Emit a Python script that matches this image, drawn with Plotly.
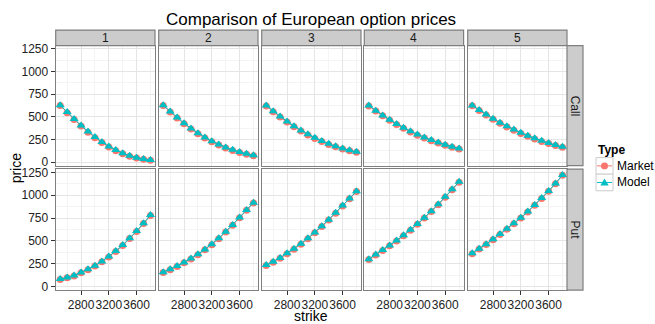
import plotly.graph_objects as go

# ---------------- data ----------------
strikes = [2500, 2600, 2700, 2800, 2900, 3000, 3100, 3200, 3300, 3400, 3500, 3600, 3700, 3800]
maturities = ["1", "2", "3", "4", "5"]
option_types = ["Call", "Put"]
x_ticks = [2800, 3200, 3600]
y_ticks = [0, 250, 500, 750, 1000, 1250]

call_model = [
    [628, 552, 477, 405, 338, 277, 222, 174, 133, 99, 71, 50, 35, 24],
    [628, 558, 492, 429, 372, 320, 273, 231, 195, 163, 136, 113, 93, 76],
    [624, 562, 503, 448, 397, 350, 307, 268, 234, 203, 176, 152, 131, 114],
    [624, 568, 516, 467, 421, 379, 340, 305, 273, 244, 217, 193, 171, 151],
    [625, 574, 525, 479, 436, 396, 359, 324, 292, 263, 236, 211, 189, 169],
]
call_market = [
    [624, 546, 471, 399, 331, 270, 216, 168, 127, 93, 66, 45, 31, 21],
    [624, 553, 486, 423, 365, 313, 266, 224, 188, 156, 129, 106, 86, 70],
    [620, 557, 498, 442, 391, 343, 300, 261, 227, 196, 169, 146, 125, 109],
    [620, 563, 511, 461, 415, 373, 334, 298, 266, 237, 211, 187, 165, 146],
    [621, 569, 520, 473, 430, 389, 352, 317, 285, 256, 229, 205, 183, 164],
]
put_model = [
    [82, 100, 121, 154, 189, 229, 275, 329, 389, 454, 529, 607, 693, 782],
    [157, 189, 225, 264, 307, 354, 407, 464, 529, 600, 675, 757, 839, 918],
    [236, 271, 314, 364, 414, 468, 529, 593, 661, 732, 807, 886, 964, 1043],
    [300, 350, 400, 450, 504, 561, 621, 686, 754, 825, 900, 982, 1064, 1146],
    [364, 414, 464, 518, 575, 632, 693, 754, 821, 893, 968, 1046, 1129, 1222],
]
put_market = [
    [78, 96, 117, 150, 185, 224, 271, 324, 385, 450, 525, 603, 689, 778],
    [153, 185, 221, 260, 302, 349, 402, 459, 524, 596, 671, 753, 835, 914],
    [232, 267, 310, 359, 409, 463, 524, 588, 656, 728, 803, 882, 960, 1039],
    [296, 346, 396, 446, 499, 556, 616, 681, 749, 821, 896, 978, 1060, 1142],
    [360, 410, 460, 513, 570, 627, 688, 749, 816, 889, 964, 1042, 1125, 1218],
]

# ---------------- styling ----------------
W, H = 655, 324
FONT = "Liberation Sans, Arial, sans-serif"
MARKET_COL = "#F8766D"
MODEL_COL = "#00BFC4"
BORDER = "#7F7F7F"
STRIP_FILL = "#CCCCCC"
GRID_MAJ = "#E5E5E5"
GRID_MIN = "#F4F4F4"

panel_left = [55.7, 158.7, 261.7, 364.3, 467.7]
panel_w = 99.3
row_top = [42.7, 169.3]
row_bot = [165.7, 293.3]


def px(x):
    return x / W


def py(y):
    return 1 - y / H


fig = go.Figure()
layout = {}
shapes = []
annotations = []

data = {"Call": (call_market, call_model), "Put": (put_market, put_model)}

for r, otype in enumerate(option_types):
    mk, md = data[otype]
    for c, mat in enumerate(maturities):
        idx = r * 5 + c + 1
        xa = "x" if idx == 1 else f"x{idx}"
        ya = "y" if idx == 1 else f"y{idx}"
        fig.add_trace(go.Scatter(
            x=strikes, y=mk[c], xaxis=xa, yaxis=ya, mode="lines+markers",
            line=dict(color=MARKET_COL, width=1),
            marker=dict(symbol="circle", size=7, color=MARKET_COL),
            name="Market", showlegend=False, cliponaxis=False))
        fig.add_trace(go.Scatter(
            x=strikes, y=md[c], xaxis=xa, yaxis=ya, mode="lines+markers",
            line=dict(color=MODEL_COL, width=1),
            marker=dict(symbol="triangle-up", size=8, color=MODEL_COL),
            name="Model", showlegend=False, cliponaxis=False))

        x0 = panel_left[c]
        x1 = x0 + panel_w
        y0 = row_top[r]
        y1 = row_bot[r]
        xkey = "xaxis" if idx == 1 else f"xaxis{idx}"
        ykey = "yaxis" if idx == 1 else f"yaxis{idx}"
        bottom = (r == 1)
        left = (c == 0)
        layout[xkey] = dict(
            domain=[px(x0), px(x1)], anchor=ya, range=[2435, 3865],
            tickmode="array", tickvals=x_ticks, ticktext=[str(t) for t in x_ticks],
            tickangle=0, ticklabelstandoff=-1,
            showticklabels=bottom, ticks="outside" if bottom else "",
            ticklen=4, tickcolor="#333333", tickwidth=1,
            tickfont=dict(family=FONT, size=12, color="#222222"),
            showgrid=True, gridcolor=GRID_MAJ, gridwidth=1,
            minor=dict(tickmode="array", tickvals=[2600, 3000, 3400, 3800],
                       showgrid=True, gridcolor=GRID_MIN, gridwidth=0.8),
            showline=True, mirror=True, linecolor=BORDER, linewidth=1.2,
            zeroline=False, fixedrange=True)
        layout[ykey] = dict(
            domain=[py(y1), py(y0)], anchor=xa, range=[-38, 1285],
            tickmode="array", tickvals=y_ticks, ticktext=[str(t) for t in y_ticks],
            tickangle=0,
            showticklabels=left, ticks="outside" if left else "",
            ticklen=4, tickcolor="#333333", tickwidth=1,
            tickfont=dict(family=FONT, size=12, color="#222222"),
            showgrid=True, gridcolor=GRID_MAJ, gridwidth=1,
            minor=dict(tickmode="array", tickvals=[125, 375, 625, 875, 1125],
                       showgrid=True, gridcolor=GRID_MIN, gridwidth=0.8),
            showline=True, mirror=True, linecolor=BORDER, linewidth=1.2,
            zeroline=False, fixedrange=True)

# column strips
for c, mat in enumerate(maturities):
    x0 = panel_left[c]
    x1 = x0 + panel_w
    shapes.append(dict(type="rect", xref="paper", yref="paper",
                       x0=px(x0), x1=px(x1), y0=py(42.7), y1=py(26.7),
                       fillcolor=STRIP_FILL, line=dict(color=BORDER, width=1.2)))
    annotations.append(dict(text=mat, xref="paper", yref="paper",
                            x=px((x0 + x1) / 2), y=py(34.7), showarrow=False,
                            xanchor="center", yanchor="middle",
                            font=dict(family=FONT, size=12, color="#1a1a1a")))

# row strips
for r, otype in enumerate(option_types):
    shapes.append(dict(type="rect", xref="paper", yref="paper",
                       x0=px(567.0), x1=px(583.0), y0=py(row_bot[r]), y1=py(row_top[r]),
                       fillcolor=STRIP_FILL, line=dict(color=BORDER, width=1.2)))
    annotations.append(dict(text=otype, xref="paper", yref="paper",
                            x=px(575.0), y=py((row_top[r] + row_bot[r]) / 2),
                            showarrow=False, textangle=90,
                            xanchor="center", yanchor="middle",
                            font=dict(family=FONT, size=12, color="#1a1a1a")))

# titles
annotations.append(dict(text="Comparison of European option prices", xref="paper", yref="paper",
                        x=px(311), y=py(16), showarrow=False, xanchor="center", yanchor="middle",
                        font=dict(family=FONT, size=17, color="black")))
annotations.append(dict(text="strike", xref="paper", yref="paper",
                        x=px(311), y=0, showarrow=False, xanchor="center", yanchor="bottom",
                        borderpad=0, yshift=-4.5,
                        font=dict(family=FONT, size=14, color="black")))
annotations.append(dict(text="price", xref="paper", yref="paper",
                        x=px(15.5), y=py(168), showarrow=False, textangle=-90,
                        xanchor="center", yanchor="middle",
                        font=dict(family=FONT, size=14, color="black")))

# legend (drawn manually to fit the narrow right margin)
annotations.append(dict(text="<b>Type</b>", xref="paper", yref="paper",
                        x=px(595.5), y=py(149.5), showarrow=False, xanchor="left", yanchor="middle",
                        font=dict(family=FONT, size=12, color="black")))
legend_items = [("Market", MARKET_COL, 157.5), ("Model", MODEL_COL, 174.5)]
for name, col, ytop in legend_items:
    bx0, bx1 = 596.0, 613.0
    cy = ytop + 8.5
    cx = (bx0 + bx1) / 2
    shapes.append(dict(type="rect", xref="paper", yref="paper",
                       x0=px(bx0), x1=px(bx1), y0=py(ytop + 17), y1=py(ytop),
                       fillcolor="white", line=dict(color="#CCCCCC", width=1)))
    shapes.append(dict(type="line", xref="paper", yref="paper",
                       x0=px(bx0 + 1), x1=px(bx1 - 1), y0=py(cy), y1=py(cy),
                       line=dict(color=col, width=1)))
    if name == "Market":
        shapes.append(dict(type="circle", xref="paper", yref="paper",
                           x0=px(cx - 3.5), x1=px(cx + 3.5), y0=py(cy + 3.5), y1=py(cy - 3.5),
                           fillcolor=col, line=dict(color=col, width=0)))
    else:
        path = (f"M {px(cx - 4.2)},{py(cy + 3)} L {px(cx + 4.2)},{py(cy + 3)} "
                f"L {px(cx)},{py(cy - 4.2)} Z")
        shapes.append(dict(type="path", xref="paper", yref="paper", path=path,
                           fillcolor=col, line=dict(color=col, width=0)))
    annotations.append(dict(text=name, xref="paper", yref="paper",
                            x=px(615), y=py(cy), showarrow=False, xanchor="left", yanchor="middle",
                            font=dict(family=FONT, size=12, color="black")))

fig.update_layout(
    **layout,
    width=W, height=H, autosize=False,
    margin=dict(l=0, r=0, t=0, b=0),
    paper_bgcolor="white", plot_bgcolor="white",
    showlegend=False,
    shapes=shapes, annotations=annotations,
    font=dict(family=FONT),
)

fig.write_html(
    "out.html",
    config={"displayModeBar": False},
    post_script="document.body.style.margin='0';document.body.style.overflow='hidden';",
)
